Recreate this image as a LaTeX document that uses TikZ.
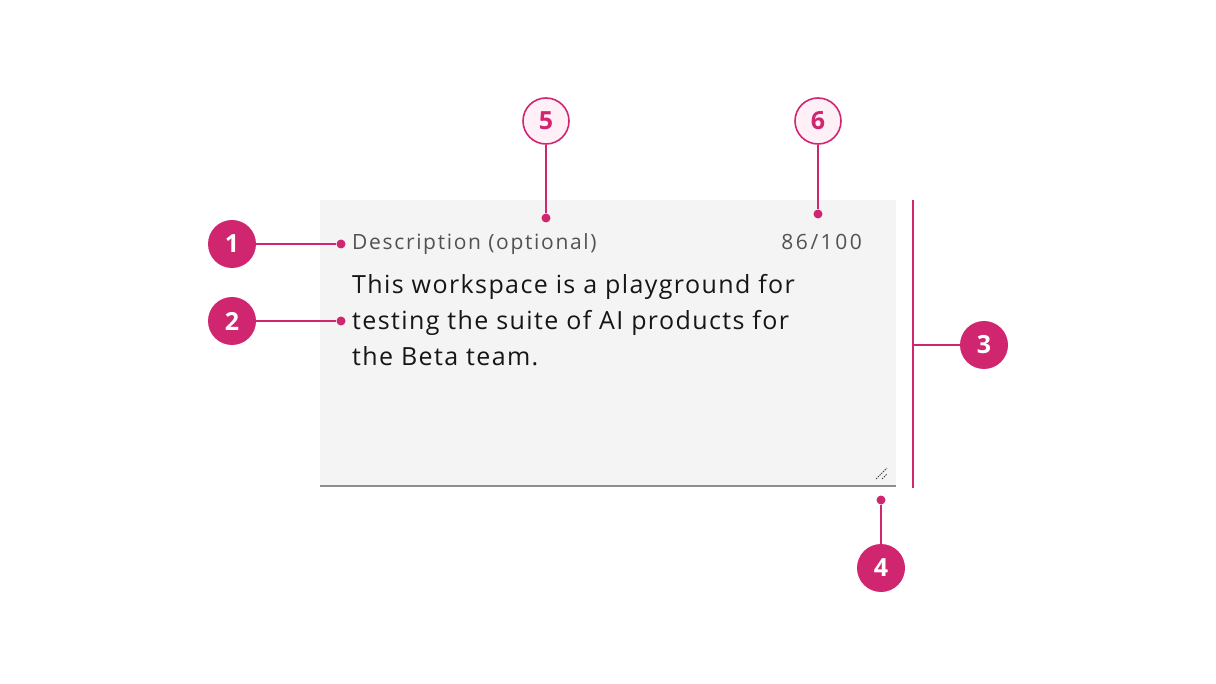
\documentclass[tikz,border=0pt]{standalone}
\usepackage{fontspec}
\setmainfont{Open Sans}
\newfontfamily\bodyfont[LetterSpace=5.6]{Open Sans}
\newfontfamily\labfont[LetterSpace=8]{Open Sans}
\newfontfamily\numfont[LetterSpace=12]{Open Sans}
\definecolor{mag}{HTML}{D02670}
\definecolor{magl}{HTML}{FFF0F7}
\definecolor{fieldbg}{HTML}{F4F4F4}
\definecolor{bline}{HTML}{8D8D8D}
\definecolor{lbl}{HTML}{525252}
\definecolor{txt}{HTML}{161616}
\tikzset{
  badge/.style={circle, fill=mag, minimum size=48pt, inner sep=0pt, text=white, font=\fontsize{25}{25}\selectfont\bfseries},
  badgeo/.style={circle, draw=mag, line width=1.6pt, fill=magl, minimum size=46pt, inner sep=0pt, text=mag, font=\fontsize{25}{25}\selectfont\bfseries},
  lead/.style={draw=mag, line width=1.6pt},
  dotp/.style={circle, fill=mag, minimum size=9pt, inner sep=0pt},
  labtxt/.style={inner sep=0pt, text=lbl, font=\labfont\fontsize{21}{21}\selectfont},
  bodytxt/.style={anchor=base west, inner sep=0pt, text=txt, font=\bodyfont\fontsize{25}{25}\selectfont},
}
\begin{document}
\begin{tikzpicture}[x=1pt,y=-1pt]
\useasboundingbox (0,0) rectangle (1216,684);
% field
\fill[fieldbg] (320,200) rectangle (896,487);
\draw[bline, line width=2pt] (320,486) -- (896,486);
% resize handle
\draw[txt!80, line width=1pt, dash pattern=on 1.5pt off 1pt] (876,479) -- (887,468);
\draw[txt!80, line width=1pt, dash pattern=on 1.5pt off 1pt] (882,479) -- (887,474);
% texts
\node[labtxt, anchor=base west] (lab) at (352,250) {Description (optional)};
\node[labtxt, anchor=base east, font=\numfont\fontsize{21}{21}\selectfont] (cnt) at (862,250) {86/100};
\node[bodytxt] (l1) at (352,294) {This workspace is a playground for};
\node[bodytxt] (l2) at (352,330) {testing the suite of AI products for};
\node[bodytxt] (l3) at (352,366) {the Beta team.};
% badges
\node[badge] (b1) at (232,244) {1};
\node[badge] (b2) at (232,321) {2};
\node[badge] (b3) at (984,345) {3};
\node[badge] (b4) at (881,568) {4};
\node[badgeo] (b5) at (546,121) {5};
\node[badgeo] (b6) at (818,121) {6};
% dots
\node[dotp] (d1) at (341,244) {};
\node[dotp] (d2) at (341,321) {};
\node[dotp] (d4) at (881,500) {};
\node[dotp] (d5) at (546,218) {};
\node[dotp] (d6) at (818,214) {};
\coordinate (vtop) at (913,200);
\coordinate (vbot) at (913,488);
\coordinate (vmid) at (913,345);
% leaders
\draw[lead] (b1) -- (d1);
\draw[lead] (b2) -- (d2);
\draw[lead] (b4) -- (d4);
\draw[lead] (b5) -- (d5);
\draw[lead] (b6) -- (d6);
\draw[lead] (vtop) -- (vbot);
\draw[lead] (vmid) -- (b3);
\end{tikzpicture}
\end{document}
